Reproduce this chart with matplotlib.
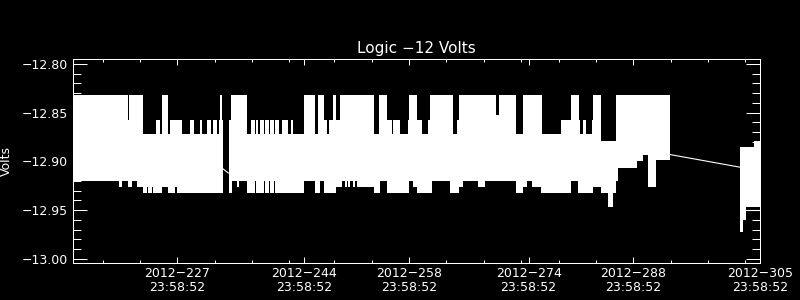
import numpy as np
import matplotlib
matplotlib.use("Agg")
import matplotlib.pyplot as plt

# step envelope of the sampled voltage: segment edges (day of year 2012),
# upper and lower value of the trace inside each segment (nan = no data)
edges = [213.00, 219.19, 219.60, 220.33, 220.53, 220.93, 221.60, 222.41, 222.94, 223.08,
         223.61, 223.74, 224.15, 224.68, 224.95, 225.75, 226.02, 226.75, 226.96, 227.62,
         228.69, 229.23, 230.03, 230.30, 230.97, 231.50, 231.77, 232.31, 232.57, 232.71,
         232.98, 233.15, 233.87, 234.14, 234.27, 234.94, 235.29, 236.28, 236.82, 237.39,
         237.53, 237.83, 238.06, 238.60, 238.73, 239.27, 239.40, 239.93, 240.07, 240.64,
         240.96, 241.85, 242.17, 242.52, 243.95, 245.42, 245.82, 246.09, 246.62, 246.99,
         247.29, 247.83, 248.19, 248.77, 249.03, 249.43, 249.70, 249.84, 250.10, 250.50,
         250.77, 251.04, 253.31, 253.98, 254.12, 255.05, 255.68, 255.90, 256.79, 257.90,
         258.00, 258.53, 259.03, 259.70, 260.58, 260.81, 261.07, 263.48, 263.84, 263.92,
         264.38, 264.69, 265.22, 267.23, 268.17, 269.64, 270.04, 272.31, 273.25, 273.79,
         274.41, 275.66, 275.79, 278.33, 279.63, 280.61, 280.74, 280.88, 281.32, 281.68,
         282.44, 282.62, 283.69, 284.62, 285.25, 285.69, 286.00, 288.46, 289.31, 290.02,
         291.01, 292.92, 302.29, 302.65, 303.05, 304.16, 305.00]

hi = [-12.832, -12.832, -12.832, -12.858, -12.832, -12.832, -12.832, -12.872, -12.872, -12.872,
      -12.872, -12.872, -12.858, -12.872, -12.832, -12.872, -12.858, -12.858, -12.858, -12.872,
      -12.858, -12.872, -12.858, -12.872, -12.858, -12.872, -12.858, -12.872, -12.858, -12.832,
      -12.858, np.nan, -12.858, -12.832, -12.832, -12.832, -12.832, -12.872, -12.858, -12.872,
      -12.858, -12.872, -12.858, -12.872, -12.858, -12.872, -12.858, -12.872, -12.858, -12.872,
      -12.858, -12.872, -12.858, -12.872, -12.832, -12.872, -12.832, -12.832, -12.858, -12.872,
      -12.858, -12.832, -12.858, -12.832, -12.832, -12.832, -12.832, -12.832, -12.832, -12.832,
      -12.832, -12.832, -12.872, -12.832, -12.832, -12.858, -12.872, -12.858, -12.872, -12.858,
      -12.832, -12.832, -12.858, -12.872, -12.858, -12.832, -12.832, -12.832, -12.858, -12.872,
      -12.858, -12.832, -12.832, -12.832, -12.832, -12.852, -12.832, -12.872, -12.832, -12.832,
      -12.832, -12.832, -12.872, -12.858, -12.832, -12.832, -12.858, -12.872, -12.858, -12.872,
      -12.858, -12.832, -12.879, -12.879, -12.879, -12.832, -12.832, -12.832, -12.832, -12.832,
      -12.832, np.nan, -12.885, -12.885, -12.885, -12.879]

lo = [-12.920, -12.926, -12.920, -12.926, -12.926, -12.920, -12.926, -12.933, -12.926, -12.933,
      -12.926, -12.933, -12.933, -12.933, -12.926, -12.933, -12.933, -12.926, -12.933, -12.933,
      -12.933, -12.933, -12.933, -12.933, -12.933, -12.933, -12.933, -12.933, -12.933, -12.933,
      -12.933, np.nan, -12.933, -12.933, -12.920, -12.926, -12.920, -12.933, -12.933, -12.920,
      -12.933, -12.933, -12.933, -12.920, -12.933, -12.920, -12.933, -12.920, -12.933, -12.933,
      -12.933, -12.933, -12.933, -12.933, -12.920, -12.933, -12.933, -12.920, -12.933, -12.933,
      -12.933, -12.933, -12.926, -12.926, -12.920, -12.926, -12.920, -12.926, -12.920, -12.926,
      -12.920, -12.926, -12.933, -12.933, -12.920, -12.933, -12.933, -12.933, -12.933, -12.933,
      -12.920, -12.926, -12.933, -12.933, -12.933, -12.933, -12.920, -12.933, -12.933, -12.933,
      -12.933, -12.926, -12.920, -12.926, -12.920, -12.920, -12.920, -12.933, -12.926, -12.920,
      -12.926, -12.933, -12.933, -12.933, -12.920, -12.933, -12.933, -12.933, -12.933, -12.933,
      -12.933, -12.926, -12.933, -12.947, -12.933, -12.920, -12.907, -12.900, -12.893, -12.926,
      -12.899, np.nan, -12.973, -12.960, -12.947, -12.947]

# straight lines drawn across the data gaps
gap1_t = [232.99, 233.82]
gap1_v = [-12.907, -12.912]
gap2_t = [292.92, 302.29]
gap2_v = [-12.893, -12.906]
tail_t = [303.05, 305.00]
tail_v = [-12.950, -12.950]

xticks = [227, 244, 258, 274, 288, 305]
xlabels = ["2012\u2212%d\n23:58:52" % d for d in xticks]
xminor = [217, 222, 232, 237, 242, 248, 253, 263, 268, 273, 278, 283, 293, 298, 303]
yticks = [-13.00, -12.95, -12.90, -12.85, -12.80]
yminor = np.arange(-13.00, -12.795, 0.01)

edges = np.array(edges)
xs = np.column_stack([edges[:-1], edges[1:]]).ravel()
top = np.repeat(hi, 2)
bot = np.repeat(lo, 2)

fig = plt.figure(figsize=(8, 3), dpi=100, facecolor="black")
ax = fig.add_axes([0.0909, 0.1223, 0.8595, 0.68], facecolor="black")

ax.fill_between(xs, bot, top, color="white", lw=0, antialiased=False)
for t, v in [(gap1_t, gap1_v), (gap2_t, gap2_v), (tail_t, tail_v)]:
    ax.plot(t, v, color="white", lw=0.8)

ax.set_xlim(213, 305)
ax.set_ylim(-13.0047, -12.7952)

ax.set_xticks(xticks)
ax.set_xticklabels(xlabels, linespacing=1.05)
ax.set_xticks(xminor, minor=True)
ax.set_yticks(yticks)
ax.set_yticklabels([("%.2f" % v).replace("-", "\u2212") for v in yticks])
ax.set_yticks(yminor, minor=True)

ax.tick_params(which="both", direction="in", top=True, right=True,
               colors="white", width=0.72, labelsize=9)
ax.tick_params(axis="x", which="major", length=4.3, pad=3)
ax.tick_params(axis="x", which="minor", length=2.2)
ax.tick_params(axis="y", which="major", length=10, pad=3.5)
ax.tick_params(axis="y", which="minor", length=5.8)
for s in ax.spines.values():
    s.set_color("white")
    s.set_linewidth(0.72)

ax.set_title("Logic \u221212 Volts", color="white", fontsize=11, pad=4.7)
fig.text(0.0, 1 - 161 / 300, "Volts", color="white", fontsize=9,
         rotation=90, ha="left", va="center")

fig.savefig("out.png", dpi=100, facecolor="black")
